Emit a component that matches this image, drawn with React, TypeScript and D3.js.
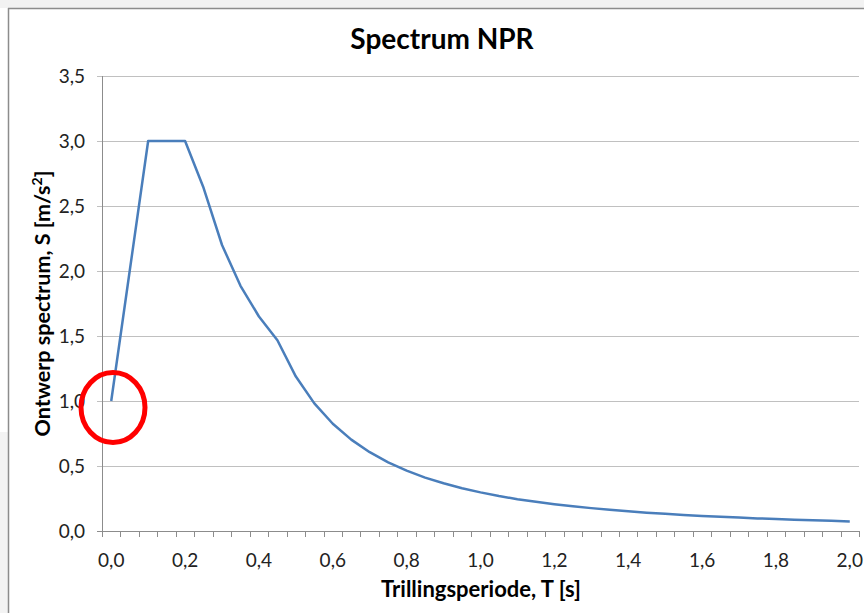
import React from "react";
import * as d3 from "d3";

const periods: number[] = [
  0.0, 0.05, 0.1, 0.15, 0.2, 0.25, 0.3, 0.35, 0.4, 0.45, 0.5, 0.55, 0.6, 0.65, 0.7,
  0.75, 0.8, 0.85, 0.9, 0.95, 1.0, 1.05, 1.1, 1.15, 1.2, 1.25, 1.3, 1.35, 1.4, 1.45,
  1.5, 1.55, 1.6, 1.65, 1.7, 1.75, 1.8, 1.85, 1.9, 1.95, 2.0,
];

const spectrum: number[] = [
  1.0, 2.0, 3.0, 3.0, 3.0, 2.64, 2.2, 1.886, 1.65, 1.467, 1.188, 0.982, 0.825, 0.703, 0.606,
  0.528, 0.464, 0.411, 0.367, 0.329, 0.297, 0.269, 0.245, 0.225, 0.206, 0.19, 0.176, 0.163, 0.152, 0.141,
  0.132, 0.124, 0.116, 0.109, 0.103, 0.097, 0.092, 0.087, 0.082, 0.078, 0.074,
];

const yTicks: number[] = [0, 0.5, 1.0, 1.5, 2.0, 2.5, 3.0, 3.5];
const xLabelEvery = 4;

const title = "Spectrum NPR";
const xTitle = "Trillingsperiode, T [s]";
const yTitle = "Ontwerp spectrum, S [m/s";

const W = 864;
const H = 613;
const FONT = "Lato, 'Open Sans', sans-serif";

const fmt = (v: number) => v.toFixed(1).replace(".", ",");

export default function App() {
  const plot = { left: 102, right: 859, top: 76, bottom: 531 };
  const x = d3
    .scaleBand<number>()
    .domain(periods.map((_, i) => i))
    .range([plot.left, plot.right])
    .padding(0);
  const y = d3.scaleLinear().domain([0, 3.5]).range([plot.bottom, plot.top]);
  const cx = (i: number) => (x(i) as number) + x.bandwidth() / 2;

  const line = d3
    .line<number>()
    .x((_, i) => cx(i))
    .y((d) => y(d));

  const boundaries = d3.range(periods.length + 1).map((i) => plot.left + i * x.bandwidth());

  return (
    <svg
      width={W}
      height={H}
      style={{ position: "absolute", left: 0, top: 0, background: "#ffffff" }}
      fontFamily={FONT}
    >
      <rect x={0} y={0} width={W} height={8} fill="#f2f2f2" />
      <rect x={0} y={432} width={8} height={H - 432} fill="#f3f3f3" />
      <line x1={8} y1={8.5} x2={W} y2={8.5} stroke="#8c8c8c" strokeWidth={1.5} />
      <line x1={8.5} y1={8} x2={8.5} y2={H} stroke="#8c8c8c" strokeWidth={1.5} />

      {/* gridlines */}
      {yTicks.map((t) => (
        <line
          key={"g" + t}
          x1={plot.left - 5}
          x2={plot.right}
          y1={Math.round(y(t)) + 0.5}
          y2={Math.round(y(t)) + 0.5}
          stroke={t === 0 ? "#8c8c8c" : "#c0c0c0"}
          strokeWidth={1}
        />
      ))}
      {/* y axis line */}
      <line x1={plot.left + 0.5} x2={plot.left + 0.5} y1={plot.top} y2={plot.bottom} stroke="#8c8c8c" />
      {/* x ticks */}
      {boundaries.map((bx, i) => (
        <line
          key={"xt" + i}
          x1={Math.round(bx) + 0.5}
          x2={Math.round(bx) + 0.5}
          y1={plot.bottom}
          y2={plot.bottom + 6}
          stroke="#8c8c8c"
        />
      ))}
      {/* y labels */}
      {yTicks.map((t) => (
        <text
          key={"yl" + t}
          x={plot.left - 17}
          y={y(t)}
          dy="0.36em"
          textAnchor="end"
          fontSize={19}
          fill="#222"
        >
          {fmt(t)}
        </text>
      ))}
      {/* x labels */}
      {periods.map((p, i) =>
        i % xLabelEvery === 0 ? (
          <text key={"xl" + i} x={cx(i)} y={567} textAnchor="middle" fontSize={19} fill="#222">
            {fmt(p)}
          </text>
        ) : null
      )}

      {/* series */}
      <path d={line(spectrum) || ""} fill="none" stroke="#4a7ebb" strokeWidth={2.5} strokeLinejoin="round" />

      {/* titles */}
      <text x={442} y={49} textAnchor="middle" fontSize={28} fontWeight="bold" fill="#000">
        {title}
      </text>
      <text x={481} y={597} textAnchor="middle" fontSize={22} fontWeight="bold" fill="#000">
        {xTitle}
      </text>
      <text
        transform={`translate(50, ${(plot.top + plot.bottom) / 2}) rotate(-90)`}
        textAnchor="middle"
        fontSize={21.5}
        fontWeight="bold"
        fill="#000"
      >
        {yTitle}
        <tspan dy={-8} fontSize={14}>2</tspan>
        <tspan dy={8}>]</tspan>
      </text>

      {/* red highlight circle */}
      <ellipse cx={113} cy={407.5} rx={32} ry={35} fill="none" stroke="#ff0000" strokeWidth={5} />
    </svg>
  );
}
